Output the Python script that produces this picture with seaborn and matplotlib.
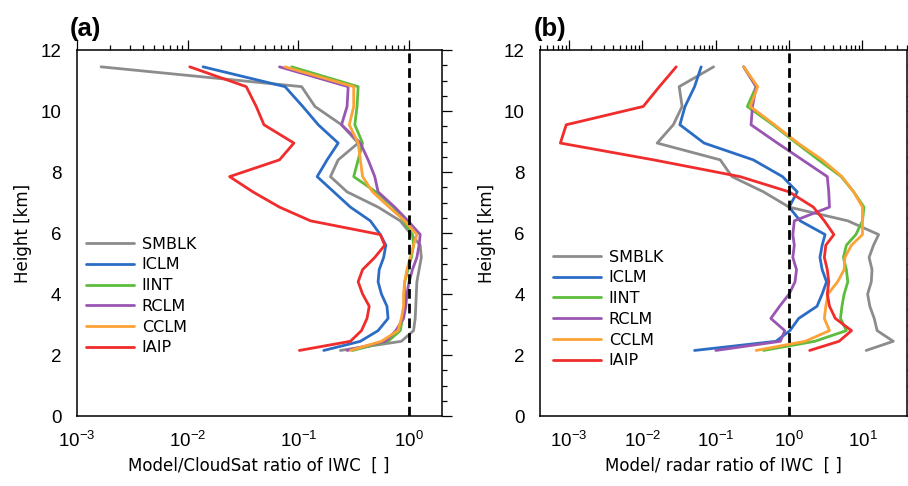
import numpy as np
import pandas as pd
import matplotlib
matplotlib.use("Agg")
import matplotlib.pyplot as plt
import matplotlib.ticker as mticker
import seaborn as sns

# heights of the profile levels [km], bottom to top
heights = [2.15, 2.45, 2.8, 3.2, 3.6, 4.0, 4.4, 4.8, 5.2, 5.6, 5.95,
           6.4, 6.85, 7.35, 7.85, 8.4, 8.95, 9.55, 10.15, 10.8, 11.45]

models = ["SMBLK", "ICLM", "IINT", "RCLM", "CCLM", "IAIP"]
colors = ["#8c8c8c", "#2b6cc4", "#5cbd3c", "#9856b2", "#fca236", "#f02c2c"]

# ratios, stored as powers of ten
# (a) model / CloudSat
smblk_a = [-0.62, -0.07, 0.04, 0.055, 0.06, 0.065, 0.07, 0.09, 0.11, 0.10, 0.02,
           -0.08, -0.28, -0.56, -0.71, -0.64, -0.46, -0.61, -0.85, -0.97, -2.78]
iclm_a = [-0.77, -0.44, -0.28, -0.19, -0.20, -0.25, -0.28, -0.27, -0.23, -0.21, -0.26,
          -0.35, -0.53, -0.68, -0.83, -0.74, -0.64, -0.82, -0.96, -1.12, -1.86]
iint_a = [-0.51, -0.19, -0.08, -0.06, -0.04, -0.04, -0.04, -0.01, 0.02, 0.04, 0.03,
          -0.05, -0.14, -0.30, -0.50, -0.46, -0.42, -0.49, -0.47, -0.46, -1.06]
rclm_a = [-0.56, -0.21, -0.12, -0.05, -0.03, -0.02, 0.00, 0.03, 0.07, 0.09, 0.10,
          -0.01, -0.13, -0.28, -0.31, -0.37, -0.44, -0.61, -0.56, -0.55, -1.17]
cclm_a = [-0.53, -0.25, -0.10, -0.07, -0.05, -0.05, -0.04, -0.02, 0.01, 0.04, 0.07,
          -0.04, -0.18, -0.33, -0.42, -0.44, -0.46, -0.54, -0.50, -0.50, -1.12]
iaip_a = [-0.99, -0.53, -0.43, -0.38, -0.36, -0.42, -0.46, -0.42, -0.31, -0.22, -0.26,
          -0.89, -1.17, -1.41, -1.62, -1.17, -1.04, -1.31, -1.38, -1.47, -1.98]

# (b) model / radar
smblk_b = [1.05, 1.42, 1.20, 1.16, 1.10, 1.07, 1.12, 1.13, 1.09, 1.15, 1.22,
           0.80, 0.0, -0.35, -0.78, -0.94, -1.80, -1.58, -1.46, -1.50, -1.03]
iclm_b = [-1.29, -0.18, 0.01, 0.13, 0.38, 0.45, 0.51, 0.45, 0.42, 0.45, 0.49,
          0.15, 0.0, 0.11, -0.09, -0.49, -1.16, -1.49, -1.42, -1.29, -1.20]
iint_b = [-0.35, 0.35, 0.78, 0.70, 0.72, 0.75, 0.80, 0.78, 0.74, 0.78, 0.91,
          1.0, 1.02, 0.88, 0.71, 0.40, 0.10, -0.22, -0.57, -0.45, -0.62]
rclm_b = [-1.0, -0.12, -0.06, -0.25, -0.13, 0.0, 0.08, 0.10, 0.05, 0.07, 0.05,
          0.07, 0.55, 0.54, 0.52, 0.18, -0.16, -0.52, -0.50, -0.45, -0.62]
cclm_b = [-0.45, 0.22, 0.55, 0.48, 0.50, 0.53, 0.66, 0.75, 0.76, 0.85, 1.0,
          1.0, 1.0, 0.88, 0.72, 0.45, 0.12, -0.20, -0.53, -0.43, -0.62]
iaip_b = [0.28, 0.68, 0.85, 0.63, 0.55, 0.52, 0.54, 0.52, 0.48, 0.50, 0.61,
          0.48, 0.33, 0.0, -0.67, -1.85, -3.12, -3.04, -1.99, -1.77, -1.54]

panel_a = [smblk_a, iclm_a, iint_a, rclm_a, cclm_a, iaip_a]
panel_b = [smblk_b, iclm_b, iint_b, rclm_b, cclm_b, iaip_b]

sns.set_style("white", {"axes.edgecolor": "black", "xtick.color": "black",
                        "ytick.color": "black", "text.color": "black",
                        "axes.labelcolor": "black"})
plt.rcParams["font.family"] = ["Liberation Sans", "DejaVu Sans"]
plt.rcParams["axes.linewidth"] = 1.1

fig = plt.figure(figsize=(9.08, 4.86), dpi=100)
ax_a = fig.add_axes([0.0845, 0.144, 0.402, 0.753])
ax_b = fig.add_axes([0.5947, 0.144, 0.4038, 0.753])

label_font = {"family": "DejaVu Sans", "size": 12, "color": "black"}


def draw_panel(ax, series, xlim, xlabel, tag, leg_anchor):
    for name, col, vals in zip(models, colors, series):
        df = pd.DataFrame({"ratio": 10.0 ** np.array(vals), "height": heights})
        sns.lineplot(data=df, x="ratio", y="height", sort=False, estimator=None,
                     color=col, lw=2.0, label=name, ax=ax)
    ax.axvline(1.0, color="black", lw=2.0, ls=(0, (3.5, 1.8)), zorder=5)
    ax.set_xscale("log")
    ax.set_xlim(*xlim)
    ax.set_ylim(0, 12)
    ax.yaxis.set_major_locator(mticker.MultipleLocator(2))
    ax.yaxis.set_minor_locator(mticker.MultipleLocator(0.5))
    ax.xaxis.set_major_locator(mticker.LogLocator(base=10, numticks=12))
    ax.xaxis.set_minor_locator(mticker.LogLocator(base=10, subs=np.arange(2, 10), numticks=12))
    ax.xaxis.set_major_formatter(mticker.LogFormatterSciNotation())
    ax.tick_params(which="both", direction="out", top=True, right=True,
                   labelsize=13.5, width=0.9, pad=4, colors="black")
    ax.tick_params(which="major", length=7)
    ax.tick_params(which="minor", length=3.8)
    for sp in ax.spines.values():
        sp.set_color("black")
    ax.set_xlabel(xlabel, fontdict=label_font, labelpad=4)
    ax.set_ylabel("Height [km]", fontdict=label_font, labelpad=6)
    ax.text(-0.018, 1.025, tag, transform=ax.transAxes, fontsize=18.5,
            fontweight="bold", ha="left", va="bottom", color="black")
    ax.legend(loc="upper left", bbox_to_anchor=leg_anchor, frameon=False,
              prop={"family": "DejaVu Sans", "size": 11.5},
              handlelength=3.0, handletextpad=0.5, labelspacing=0.36,
              borderaxespad=0, borderpad=0, labelcolor="black")


draw_panel(ax_a, panel_a, (1e-3, 1.97), "Model/CloudSat ratio of IWC  [ ]",
           "(a)", (0.025, 0.49))
draw_panel(ax_b, panel_b, (4e-4, 40), "Model/ radar ratio of IWC  [ ]",
           "(b)", (0.035, 0.455))

fig.savefig("out.png", dpi=100)
